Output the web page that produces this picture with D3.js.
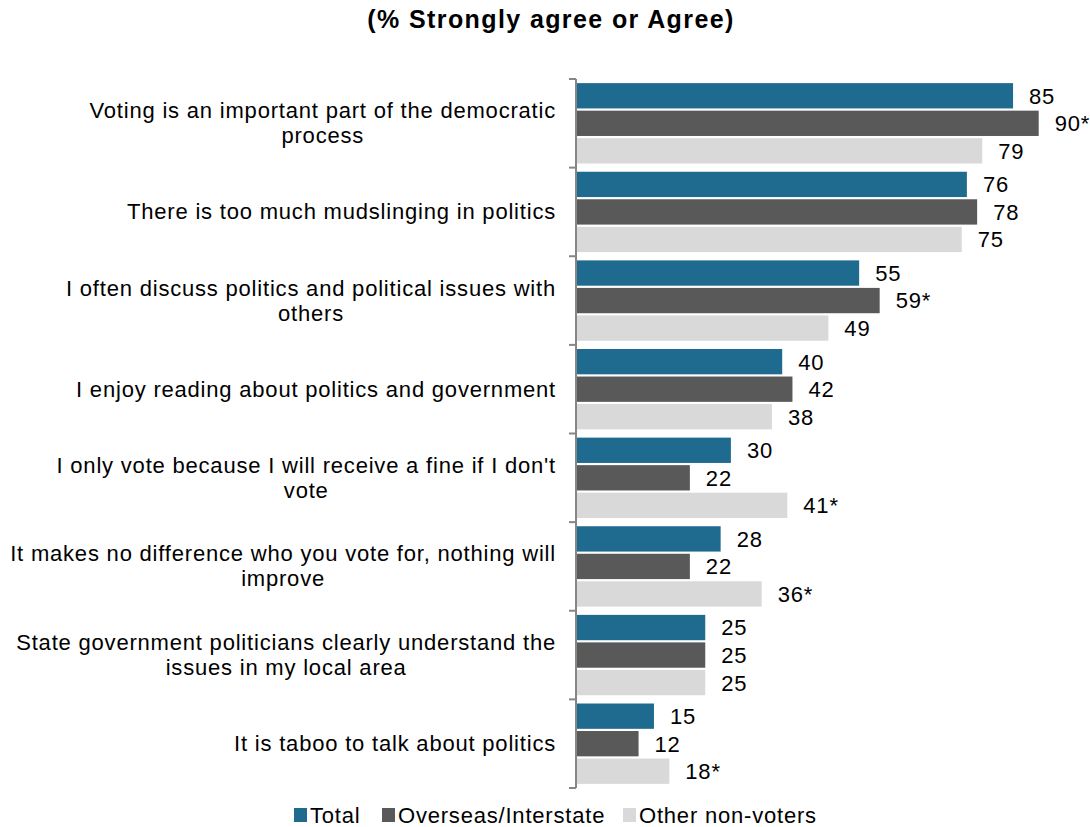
<!DOCTYPE html>
<html>
<head>
<meta charset="utf-8">
<script src="https://cdn.jsdelivr.net/npm/d3@7"></script>
<style>
  body { margin: 0; background: #fff; }
  svg { display: block; font-family: "Liberation Sans", Arial, sans-serif; }
</style>
</head>
<body>
<svg id="chart" width="1090" height="827"></svg>
<script>
// Survey statements (line breaks mark where each label wraps)
const categories = [
  "Voting is an important part of the democratic\nprocess",
  "There is too much mudslinging in politics",
  "I often discuss politics and political issues with\nothers",
  "I enjoy reading about politics and government",
  "I only vote because I will receive a fine if I don't\nvote",
  "It makes no difference who you vote for, nothing will\nimprove",
  "State government politicians clearly understand the\nissues in my local area",
  "It is taboo to talk about politics"
];
const seriesNames = ["Total", "Overseas/Interstate", "Other non-voters"];
const totalValues    = [85, 76, 55, 40, 30, 28, 25, 15];
const overseasValues = [90, 78, 59, 42, 22, 22, 25, 12];
const otherValues    = [79, 75, 49, 38, 41, 36, 25, 18];
// Significance markers appended to value labels
const overseasMarks  = ["*", "", "*", "", "", "", "", ""];
const otherMarks     = ["", "", "", "", "*", "*", "", "*"];
const colors = ["#1f6a8f", "#595959", "#d9d9d9"];

const series = [
  { name: seriesNames[0], values: totalValues,    marks: totalValues.map(() => "") },
  { name: seriesNames[1], values: overseasValues, marks: overseasMarks },
  { name: seriesNames[2], values: otherValues,    marks: otherMarks }
];

const svg = d3.select("#chart");
const axisX = 576;
const x = d3.scaleLinear().domain([0, 100]).range([axisX + 1, 1090]);
const y = d3.scaleBand().domain(d3.range(categories.length)).range([79, 788]);
const inner = d3.scaleBand().domain(d3.range(series.length))
  .range([0, y.bandwidth()]).paddingInner(0.08).paddingOuter(0.15);

const fontSize = 22;
const spacing = "0.8px";

// Title
svg.append("text")
  .attr("x", 551).attr("y", 28)
  .attr("text-anchor", "middle")
  .attr("font-weight", "bold")
  .attr("font-size", 25)
  .attr("letter-spacing", "1.4px")
  .attr("fill", "#000")
  .text("(% Strongly agree or Agree)");

// Bars and value labels
series.forEach((s, si) => {
  const g = svg.append("g");
  g.selectAll("rect").data(s.values).join("rect")
    .attr("x", x(0))
    .attr("y", (d, i) => y(i) + inner(si))
    .attr("width", d => x(d) - x(0))
    .attr("height", inner.bandwidth())
    .attr("fill", colors[si]);
  g.selectAll("text").data(s.values).join("text")
    .attr("x", d => x(d) + 16)
    .attr("y", (d, i) => y(i) + inner(si) + inner.bandwidth() / 2)
    .attr("dy", "0.36em")
    .attr("font-size", fontSize)
    .attr("letter-spacing", spacing)
    .attr("fill", "#000")
    .text((d, i) => d + s.marks[i]);
});

// Category axis: vertical line with outward ticks at band edges
const axisG = svg.append("g").attr("stroke", "#868686").attr("stroke-width", 2);
axisG.append("line")
  .attr("x1", axisX).attr("x2", axisX)
  .attr("y1", y.range()[0]).attr("y2", y.range()[1]);
const edges = d3.range(categories.length + 1).map(i => y.range()[0] + i * y.step());
axisG.selectAll("line.tick").data(edges).join("line")
  .attr("class", "tick")
  .attr("x1", axisX - 7).attr("x2", axisX)
  .attr("y1", d => d).attr("y2", d => d);

// Category labels: block right-aligned, lines centred within the block
const labelRight = 556;
const lineH = 25;
categories.forEach((c, i) => {
  const lines = c.split("\n");
  const t = svg.append("text")
    .attr("font-size", fontSize)
    .attr("letter-spacing", spacing)
    .attr("fill", "#000")
    .attr("text-anchor", "middle");
  const spans = lines.map(ln => t.append("tspan").text(ln));
  const widths = spans.map(sp => sp.node().getComputedTextLength());
  const w = d3.max(widths);
  const cx = labelRight - w / 2;
  const cy = y(i) + y.bandwidth() / 2;
  const firstBaseline = cy - (lines.length - 1) * lineH / 2 + 7.5;
  spans.forEach((sp, li) => sp.attr("x", cx).attr("y", firstBaseline + li * lineH));
});

// Legend
const legendX = [310, 398, 639];
series.forEach((s, si) => {
  svg.append("rect")
    .attr("x", legendX[si] - 16).attr("y", 808)
    .attr("width", 13).attr("height", 14)
    .attr("fill", colors[si]);
  svg.append("text")
    .attr("x", legendX[si]).attr("y", 823)
    .attr("font-size", fontSize)
    .attr("letter-spacing", spacing)
    .attr("fill", "#000")
    .text(s.name);
});
</script>
</body>
</html>
